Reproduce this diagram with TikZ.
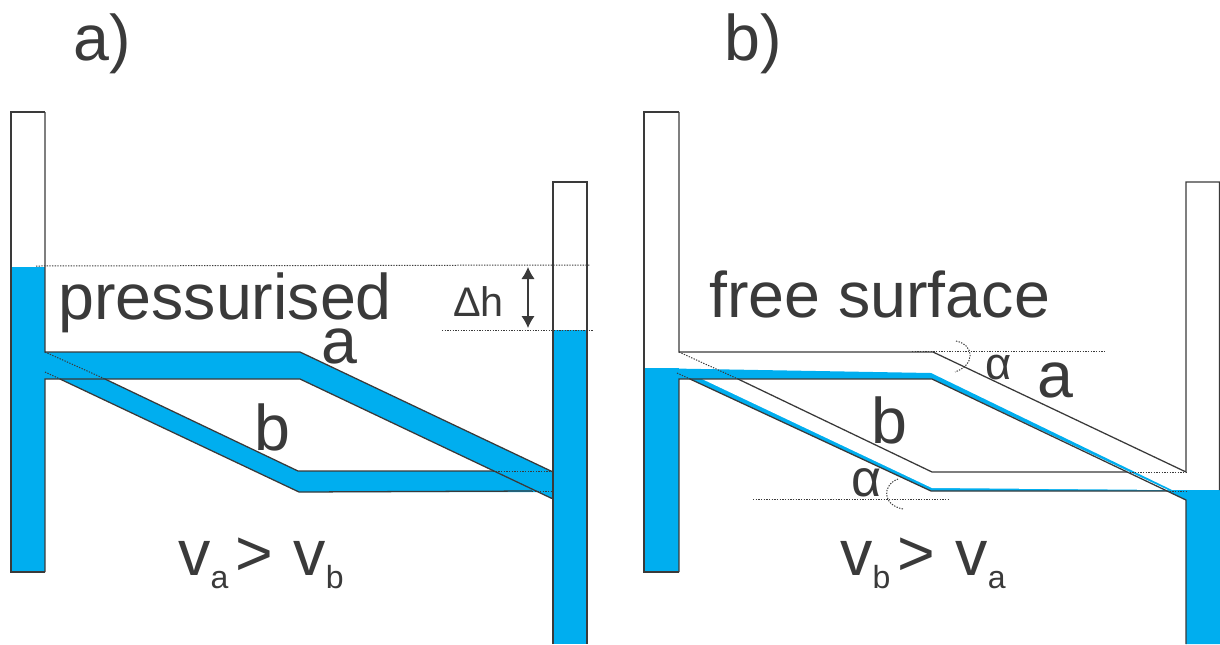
\documentclass[tikz,border=0pt]{standalone}
\usepackage{fontspec}
\usetikzlibrary{arrows.meta}
\setmainfont{Liberation Sans}
\definecolor{water}{HTML}{00AEEF}
\definecolor{ink}{HTML}{3A3A3A}
\newcommand{\lowsub}[1]{\raisebox{-9.75pt}{\fontsize{24}{24}\selectfont #1}}
\tikzset{
  wall/.style={draw=ink,line width=0.95pt},
  dots/.style={draw=ink,line width=0.75pt,dash pattern=on 1pt off 1pt},
  waterfill/.style={fill=water,draw=none},
  big/.style={anchor=base west,inner sep=0pt,text=ink,font=\fontsize{48.4}{48.4}\selectfont},
  mid/.style={anchor=base west,inner sep=0pt,text=ink,font=\fontsize{31}{31}\selectfont},
}
\begin{document}
\begin{tikzpicture}[x=0.75pt,y=-0.75pt]
\useasboundingbox (0,0) rectangle (1220,644);
% ---- panel a
\fill[waterfill] (11,267) rectangle (45,572);
\fill[waterfill] (553,330) rectangle (587,644);
\fill[waterfill] (45,352) -- (300,352) -- (553,472) -- (553,499) -- (300,379) -- (45,379) -- cycle;
\fill[waterfill] (45,352) -- (105,379) -- (298,471) -- (553,471) -- (553,492) -- (299,492) -- (60,379) -- (45,372) -- cycle;
\draw[wall] (45,112) -- (45,352) -- (300,352) -- (553,472);
\draw[wall] (45,572) -- (45,379) -- (300,379) -- (553,499);
\draw[wall] (553,644) -- (553,182) -- (587,182) -- (587,644);
\draw[wall] (45,112) -- (11,112) -- (11,572) -- (45,572);
\draw[wall] (105,379) -- (298,471) -- (493,471);
\draw[wall] (60,379) -- (299,492) -- (532,491);
\draw[dots] (45,352) -- (105,379);
\draw[dots] (45,372) -- (60,379);
\draw[dots] (493,471) -- (553,471);
\draw[dots] (532,491) -- (553,491);
\draw[dots] (36,266) -- (590,265);
\draw[dots] (442,330) -- (594,330);
\coordinate (dhtop) at (528,267);
\coordinate (dhbot) at (528,328);
\draw[draw=ink,fill=ink,line width=0.95pt,{Latex[length=9pt,width=10pt]}-{Latex[length=9pt,width=10pt]}] (dhtop) -- (dhbot);
% ---- panel b
\fill[waterfill] (644,368) -- (679,368) -- (679,572) -- (644,572) -- cycle;
\fill[waterfill] (644,368) -- (931,373) -- (1172,490) -- (1220,490) -- (1220,644) -- (1186,644) -- (1186,500) -- (1167,491) -- (931,491) -- (690,379) -- (679,379) -- cycle;
\fill[white] (702,379) -- (932,379) -- (1168,490) -- (932,488) -- cycle;
\draw[wall] (679,112) -- (679,352) -- (933,352) -- (1186,472) -- (1186,182) -- (1219.5,182) -- (1219.5,490);
\draw[wall] (679,572) -- (679,379) -- (932,379) -- (1186,500) -- (1186,644);
\draw[wall] (679,112) -- (644,112) -- (644,572) -- (679,572);
\draw[wall] (738,379) -- (932,472) -- (1127,472);
\draw[wall] (690,379) -- (931,491) -- (1167,491);
\draw[dots] (679,352) -- (738,379);
\draw[dots] (677,373) -- (690,379);
\draw[dots] (1127,472) -- (1186,472);
\draw[dots] (1167,491) -- (1186,491);
\draw[dots] (912,351) -- (1106,351);
\draw[dots] (753,499) -- (948,499);
\draw[dots] (956,341) .. controls (975,345) and (975,365) .. (955,372);
\draw[dots] (898,479) .. controls (882,485) and (882,505) .. (903,509);
% ---- text
\node[big] (ta) at (73,60) {a)};
\node[big] (tb) at (724,60) {b)};
\node[big] (press) at (58,319) {pressurised};
\node[big] (free) at (709,317) {free surface};
\node[big] (la) at (321,363) {a};
\node[big] (lb) at (254,450) {b};
\node[big] (lab) at (1037,397) {a};
\node[big] (lbb) at (871,443) {b};
\node[mid] (dh) at (453,316) {Δh};
\node[anchor=base west,inner sep=0pt,text=ink,font=\fontsize{34}{34}\selectfont] (al1) at (985,379) {α};
\node[anchor=base west,inner sep=0pt,text=ink,font=\fontsize{39}{39}\selectfont] (al2) at (851,496) {α};
\node[big] (vab) at (178,575) {v\lowsub{a}\kern5.6pt>\kern15pt v\lowsub{b}};
\node[big] (vba) at (840,575) {v\lowsub{b}\kern5.6pt>\kern15pt v\lowsub{a}};
\end{tikzpicture}
\end{document}
